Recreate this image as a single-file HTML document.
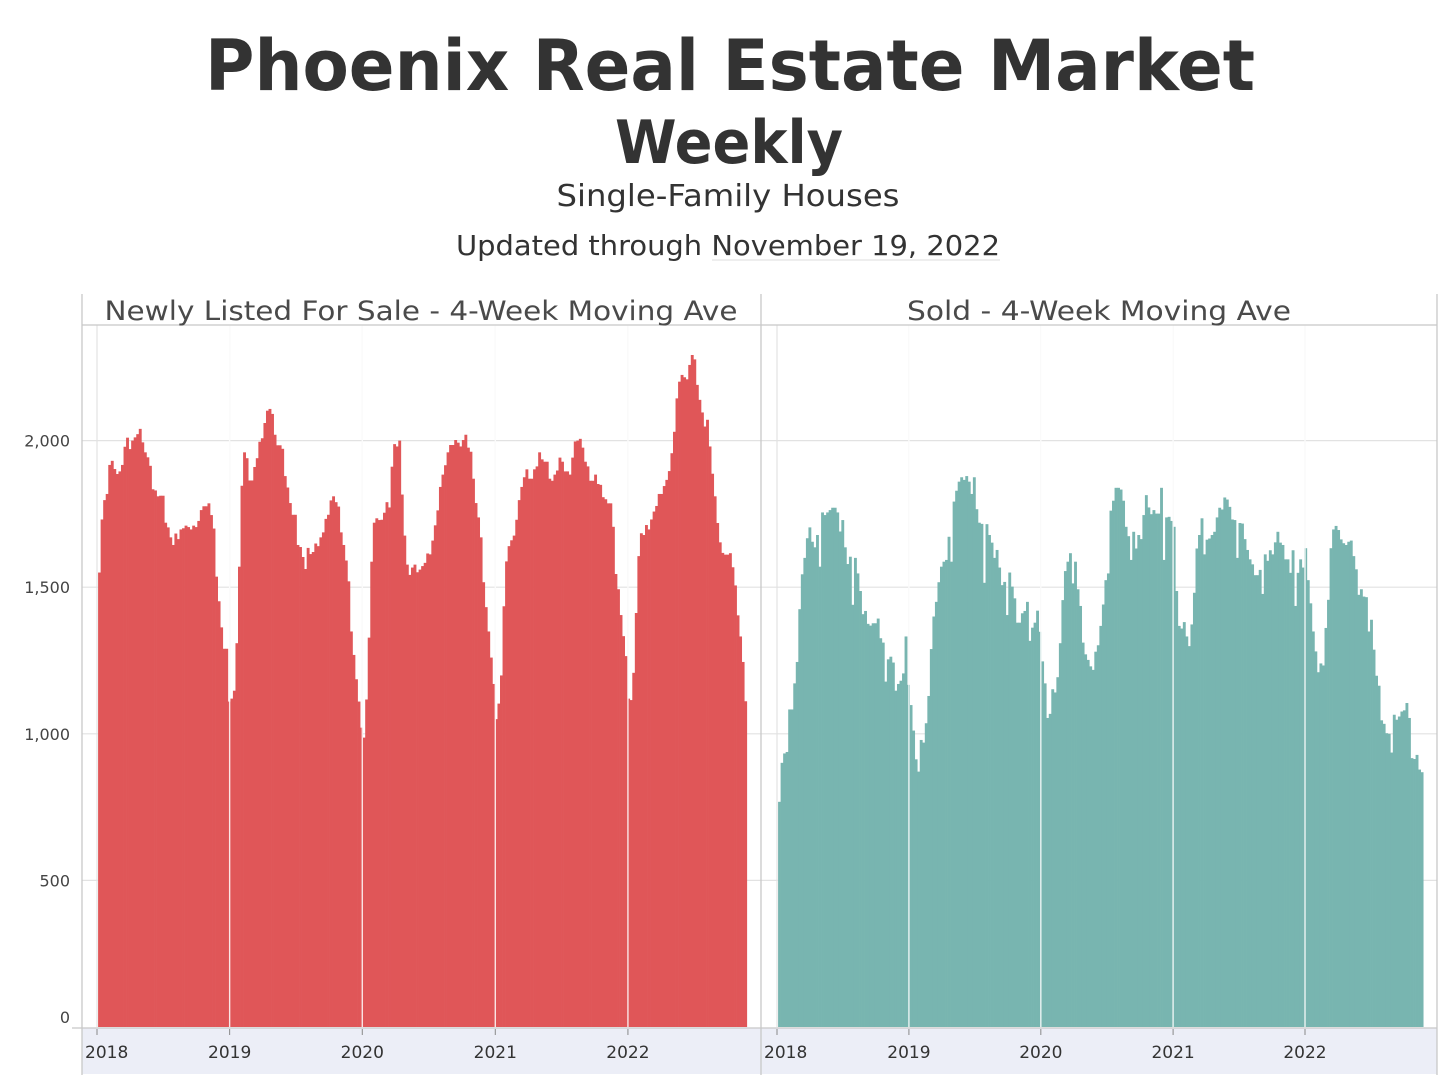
<!DOCTYPE html>
<html><head><meta charset="utf-8"><title>Phoenix Real Estate Market Weekly</title>
<style>
html,body{margin:0;padding:0;background:#fff;}
svg{display:block;font-family:"DejaVu Sans","Liberation Sans",sans-serif;}
</style></head>
<body>
<svg id="chart" width="1456" height="1092" viewBox="0 0 1456 1092" xmlns="http://www.w3.org/2000/svg">
  <text x="730" y="90" text-anchor="middle" font-size="70" font-weight="bold" fill="#333" textLength="1050" lengthAdjust="spacingAndGlyphs">Phoenix Real Estate Market</text>
  <text x="729" y="163" text-anchor="middle" font-size="60" font-weight="bold" fill="#333" textLength="228" lengthAdjust="spacingAndGlyphs">Weekly</text>
  <text x="728" y="206" text-anchor="middle" font-size="30" fill="#333" textLength="343" lengthAdjust="spacingAndGlyphs">Single-Family Houses</text>
  <text x="728" y="255" text-anchor="middle" font-size="28" fill="#333" textLength="544" lengthAdjust="spacingAndGlyphs">Updated through November 19, 2022</text>
  <line x1="712" y1="260" x2="1000" y2="260" stroke="#ddd" stroke-width="1"/>
  <g id="frame"></g>
  <g id="bars"></g>
  <g id="overlay"></g>
  <text x="421" y="320" text-anchor="middle" font-size="27" fill="#4a4a4a" textLength="633" lengthAdjust="spacingAndGlyphs">Newly Listed For Sale - 4-Week Moving Ave</text>
  <text x="1099" y="320" text-anchor="middle" font-size="27" fill="#4a4a4a" textLength="384" lengthAdjust="spacingAndGlyphs">Sold - 4-Week Moving Ave</text>
</svg>
<script>
const listedValues = [1550,1731,1797,1818,1917,1931,1903,1886,1895,1917,1979,2010,1971,2000,2011,2022,2040,1994,1960,1943,1914,1834,1830,1810,1812,1812,1720,1704,1670,1644,1683,1664,1697,1701,1710,1705,1697,1710,1705,1726,1763,1776,1776,1786,1746,1700,1536,1452,1363,1290,1290,
1110,1120,1147,1309,1570,1846,1960,1940,1864,1864,1910,1940,1996,2008,2060,2102,2108,2091,2020,1984,1984,1972,1879,1840,1787,1747,1747,1644,1637,1603,1562,1634,1613,1620,1649,1640,1670,1687,1733,1747,1796,1810,1790,1775,1687,1644,1591,1520,1349,1269,1186,1110,1021,
987,1117,1328,1587,1720,1735,1729,1730,1754,1790,1772,1911,1988,1980,2000,1816,1676,1577,1542,1567,1577,1551,1560,1572,1583,1615,1612,1659,1711,1762,1842,1884,1916,1960,1985,1985,2002,1993,1980,2002,2020,1976,1962,1870,1787,1738,1670,1517,1432,1349,1260,1170,1050,
1103,1199,1435,1588,1640,1660,1676,1730,1797,1842,1875,1902,1870,1870,1902,1912,1960,1936,1928,1928,1870,1863,1884,1898,1942,1928,1895,1895,1884,1942,1997,2000,2006,1976,1928,1912,1863,1863,1884,1852,1849,1807,1800,1786,1786,1706,1545,1493,1405,1333,1265,1120,
1115,1208,1412,1606,1684,1678,1712,1697,1731,1758,1777,1818,1818,1845,1866,1896,1957,2030,2144,2201,2224,2216,2209,2258,2292,2277,2190,2139,2096,2048,2071,1980,1887,1810,1719,1653,1617,1611,1611,1616,1568,1506,1404,1332,1245,1111];
const soldValues = [768,901,933,938,1083,1083,1172,1245,1425,1544,1600,1667,1704,1655,1636,1678,1570,1755,1746,1755,1763,1771,1771,1755,1690,1729,1636,1579,1604,1440,1600,1547,1487,1408,1419,1375,1369,1377,1377,1393,1326,1311,1178,1254,1263,1243,1147,1170,1181,1206,1332,1167,
1098,1011,913,871,979,970,1036,1129,1289,1400,1450,1517,1570,1587,1593,1672,1587,1792,1829,1860,1875,1866,1879,1860,1818,1875,1766,1720,1716,1515,1715,1678,1652,1600,1627,1567,1507,1518,1405,1550,1502,1462,1379,1379,1411,1419,1450,1317,1362,1379,1420,1348,
1247,1172,1054,1068,1152,1141,1193,1309,1456,1555,1587,1616,1513,1587,1493,1436,1311,1271,1252,1230,1218,1280,1302,1368,1441,1524,1547,1761,1795,1839,1839,1833,1795,1706,1674,1593,1689,1632,1678,1664,1746,1814,1772,1749,1763,1751,1751,1839,1593,1738,1740,1726,1706,
1487,1368,1359,1381,1332,1299,1373,1481,1632,1678,1735,1612,1662,1666,1678,1689,1738,1771,1765,1806,1799,1774,1731,1729,1600,1719,1717,1664,1627,1595,1578,1541,1541,1559,1477,1612,1590,1626,1612,1653,1689,1652,1644,1595,1595,1549,1626,1436,1549,1595,1567,1633,
1524,1445,1349,1281,1210,1240,1233,1361,1457,1633,1697,1709,1695,1663,1650,1644,1655,1659,1606,1561,1474,1493,1468,1466,1349,1389,1287,1198,1164,1046,1034,1002,1000,936,1065,1048,1059,1076,1080,1105,1054,917,914,928,878,869];
const yTicks = [0,500,1000,1500,2000];
const yTickLabels = ["0","500","1,000","1,500","2,000"];
const yearTicks = [2018,2019,2020,2021,2022];

const NS="http://www.w3.org/2000/svg";
const frame=document.getElementById('frame'), barsG=document.getElementById('bars'), overlay=document.getElementById('overlay');
function mk(tag,attrs,parent){const e=document.createElementNS(NS,tag);for(const k in attrs)e.setAttribute(k,attrs[k]);parent.appendChild(e);return e;}
const Y0=1027, PX_PER_UNIT=0.2932;
function yScale(v){return Y0 - v*PX_PER_UNIT;}
const START=Date.UTC(2018,0,1), FIRST=Date.UTC(2018,0,6), DAY=86400000;
const panels=[
 {name:'listed',left:82,right:761,x0:97,pxDay:0.3634,values:listedValues,color:'#E05658'},
 {name:'sold',left:761,right:1437,x0:777,pxDay:0.3614,values:soldValues,color:'#78B5B0'}
];
function xScale(p,days){return p.x0 + days*p.pxDay;}

// frame
let e;
e=mk('rect',{x:82,y:1028,width:1355,height:46,fill:'#ECEEF7'},frame);


panels.forEach(p=>{
  yTicks.forEach((t,i)=>{
    if(t===0)return;
    const g=mk('line',{x1:p.left,x2:p.right,y1:yScale(t),y2:yScale(t),stroke:'#e2e2e2','stroke-width':1.2},frame);
    
    
  });
  yearTicks.forEach(yr=>{
    const d=(Date.UTC(yr,0,1)-START)/DAY;
    const x=xScale(p,d);
    const g=mk('line',{x1:x,x2:x,y1:325,y2:1027,stroke:'#e2e2e2','stroke-width':1.2},frame);
    
    
    const tk=mk('line',{x1:x,x2:x,y1:1029,y2:1035,stroke:'#888','stroke-width':1},frame);
    
    
    let lx=x, anchor='middle';
    if(yr===2018){lx=p.left+3;anchor='start';}
    const tl=mk('text',{x:lx,y:1058,'text-anchor':anchor,'font-size':17,fill:'#333'},frame);
    tl.textContent=String(yr);
    
    
  });
});
yTicks.forEach((t,i)=>{
  const yy = t===0 ? yScale(t)-10 : yScale(t);
  const tl=mk('text',{x:70,y:yy+6,'text-anchor':'end','font-size':16,fill:'#444'},frame);
  tl.textContent=yTickLabels[i];
  
  
});
// bars
panels.forEach(p=>{
  const bw=7*p.pxDay;
  p.values.forEach((v,i)=>{
    const d=(FIRST-START)/DAY + 7*i - 2;
    const x=xScale(p,d);
    const r=mk('rect',{x:x.toFixed(2),y:yScale(v).toFixed(2),width:(bw+0.35).toFixed(2),height:(Y0-yScale(v)).toFixed(2),fill:p.color},barsG);
    
    
  });
  // white year separators over bars
  yearTicks.forEach(yr=>{
    if(yr===2018)return;
    const x=xScale(p,(Date.UTC(yr,0,1)-START)/DAY);
    const l=mk('line',{x1:x,x2:x,y1:325,y2:1027,stroke:'#fff','stroke-width':1.4,'stroke-opacity':0.85},overlay);
    
    
  });
});
// borders
[[82,294,82,1075],[761,294,761,1075],[1437,294,1437,1075],[82,325,1437,325],[72,1028,1437,1028]].forEach(c=>{
  const l=mk('line',{x1:c[0],y1:c[1],x2:c[2],y2:c[3],stroke:'#c8c8c8','stroke-width':1.3},overlay);
  
  
});
</script>
</body></html>
